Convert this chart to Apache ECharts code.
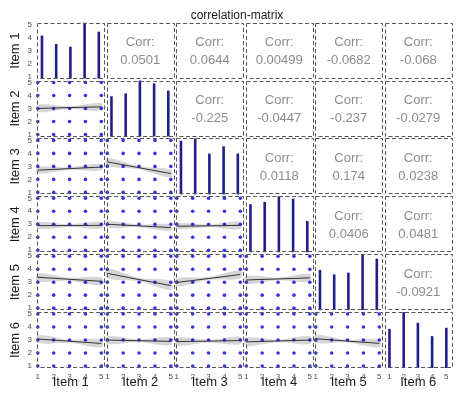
<!DOCTYPE html>
<html><head><meta charset="utf-8">
<script src="https://cdn.jsdelivr.net/npm/echarts@6/dist/echarts.min.js"></script>
<style>html,body{margin:0;padding:0;background:#fff}#c{width:474px;height:396px}</style>
</head><body><div id="c"></div>
<script>
// ---- data ----
const items = ['Item 1', 'Item 2', 'Item 3', 'Item 4', 'Item 5', 'Item 6'];
const tickValues = [1, 2, 3, 4, 5];
const levels = [1, 2, 3, 4, 5];
// diagonal bar heights (relative counts per response level 1..5)
const barItem1 = [77, 62, 57, 100, 84];
const barItem2 = [72, 77, 100, 95, 82];
const barItem3 = [96, 100, 73, 86, 73];
const barItem4 = [86, 90, 100, 96, 56];
const barItem5 = [72, 64, 67, 100, 92];
const barItem6 = [70, 100, 81, 57, 72];
const barData = [barItem1, barItem2, barItem3, barItem4, barItem5, barItem6];
// upper triangle correlations
const corrRows = [0, 0, 0, 0, 0, 1, 1, 1, 1, 2, 2, 2, 3, 3, 4];
const corrCols = [1, 2, 3, 4, 5, 2, 3, 4, 5, 3, 4, 5, 4, 5, 5];
const corrText = ['0.0501', '0.0644', '0.00499', '-0.0682', '-0.068', '-0.225', '-0.0447', '-0.237', '-0.0279', '0.0118', '0.174', '0.0238', '0.0406', '0.0481', '-0.0921'];
// lower triangle: linear fit at x = 1, 3, 5 and its confidence half-width
const fitX = [1, 3, 5];
const fitRows = [1, 2, 2, 3, 3, 3, 4, 4, 4, 4, 5, 5, 5, 5, 5];
const fitCols = [0, 0, 1, 0, 1, 2, 0, 1, 2, 3, 0, 1, 2, 3, 4];
const fitY = [
  [3.01, 3.07, 3.13], [2.71, 2.83, 2.95], [3.35, 2.90, 2.45],
  [2.90, 2.90, 2.92], [3.00, 2.88, 2.75], [2.85, 2.88, 2.92],
  [3.38, 3.22, 3.07], [3.68, 3.20, 2.74], [2.98, 3.28, 3.59], [3.17, 3.25, 3.33],
  [3.08, 2.91, 2.74], [3.00, 2.95, 2.90], [2.88, 2.92, 2.96], [2.86, 2.93, 3.00], [3.10, 2.92, 2.75]
];
const fitHalf = [
  [0.28, 0.10, 0.28], [0.25, 0.10, 0.25], [0.30, 0.12, 0.30],
  [0.25, 0.10, 0.25], [0.25, 0.10, 0.25], [0.22, 0.10, 0.28],
  [0.30, 0.12, 0.30], [0.35, 0.13, 0.35], [0.30, 0.12, 0.30], [0.30, 0.10, 0.30],
  [0.30, 0.12, 0.30], [0.30, 0.10, 0.30], [0.30, 0.10, 0.30], [0.30, 0.10, 0.30], [0.30, 0.10, 0.30]
];

// ---- layout ----
const FONT = '"Liberation Sans", Arial, sans-serif';
const L = 37, T = 22.7, R = 452, B = 368, GAP = 2;
const CW = (R - L - GAP * 5) / 6, CH = (B - T - GAP * 5) / 6;
const px = j => L + j * (CW + GAP);
const py = i => T + i * (CH + GAP);

const grids = [], xAxes = [], yAxes = [], series = [], graphics = [];
const pointData = [];
levels.forEach(a => levels.forEach(b => pointData.push([a, b])));

function axisBase(g, min, max, showLabel, isX) {
  const ax = {
    type: 'value', gridIndex: g, min: min, max: max,
    axisLine: {show: false}, axisTick: {show: false}, splitLine: {show: false},
    axisLabel: {show: showLabel, customValues: tickValues, fontSize: 8, color: '#4d4d4d',
      margin: 5, fontFamily: FONT}
  };
  ax.position = isX ? 'bottom' : 'left';
  return ax;
}
function addGrid(i, j) {
  grids.push({left: px(j), top: py(i), width: CW, height: CH, outerBoundsMode: 'none', containLabel: false});
  return grids.length - 1;
}

for (let i = 0; i < 6; i++) {
  const g = addGrid(i, i);
  xAxes.push(axisBase(g, 0.65, 5.4, i === 5, true));
  const xi = xAxes.length - 1;
  yAxes.push(axisBase(g, 0, 100, false, false));
  const yi = yAxes.length - 1;
  if (i === 0) yAxes.push(axisBase(g, 0.85, 5.15, true, false));
  series.push({type: 'bar', xAxisIndex: xi, yAxisIndex: yi, barWidth: 2.6,
    itemStyle: {color: '#1f1f8c'},
    data: levels.map((lv, k) => [lv, barData[i][k]])});
}

fitRows.forEach((i, k) => {
  const j = fitCols[k];
  const g = addGrid(i, j);
  xAxes.push(axisBase(g, 0.95, 5.2, i === 5, true));
  const xi = xAxes.length - 1;
  yAxes.push(axisBase(g, 0.85, 5.15, j === 0, false));
  const yi = yAxes.length - 1;
  const fy = fitY[k], fh = fitHalf[k];
  series.push({type: 'custom', xAxisIndex: xi, yAxisIndex: yi, z: 1, silent: true,
    data: [[fitX[0], fy[0]]],
    renderItem: function (params, api) {
      const up = fitX.map((x, m) => api.coord([x, fy[m] + fh[m]]));
      const lo = fitX.map((x, m) => api.coord([x, fy[m] - fh[m]])).reverse();
      return {type: 'polygon', shape: {points: up.concat(lo), smooth: 0.35}, style: {fill: 'rgba(153,153,153,0.4)'}};
    }});
  series.push({type: 'scatter', xAxisIndex: xi, yAxisIndex: yi, z: 2, symbolSize: 3.6,
    itemStyle: {color: '#0000e0'}, data: pointData});
  series.push({type: 'line', xAxisIndex: xi, yAxisIndex: yi, z: 3, symbol: 'none',
    lineStyle: {color: '#333333', width: 1}, data: fitX.map((x, m) => [x, fy[m]])});
});

// borders
for (let i = 0; i < 6; i++) for (let j = 0; j < 6; j++) {
  graphics.push({type: 'rect', z: 100, silent: true,
    shape: {x: Math.round(px(j)) + 0.5, y: Math.round(py(i)) + 0.5, width: Math.round(CW) - 1, height: Math.round(CH) - 1},
    style: {fill: 'none', stroke: '#555555', lineWidth: 1, lineDash: [4, 2.5]}});
}
// correlations
corrRows.forEach((i, k) => {
  const j = corrCols[k];
  const cx = px(j) + CW / 2, cy = py(i) + CH / 2;
  graphics.push({type: 'text', x: cx, y: cy - 8, style: {text: 'Corr:', fill: '#8c8c8c', font: '13px ' + FONT, textAlign: 'center', textVerticalAlign: 'middle'}});
  graphics.push({type: 'text', x: cx, y: cy + 10, style: {text: corrText[k], fill: '#8c8c8c', font: '13px ' + FONT, textAlign: 'center', textVerticalAlign: 'middle'}});
});
// strip labels
items.forEach((name, k) => {
  graphics.push({type: 'text', x: 15, y: py(k) + CH / 2, rotation: Math.PI / 2,
    style: {text: name, fill: '#1a1a1a', font: '13px ' + FONT, textAlign: 'center', textVerticalAlign: 'middle'}});
  graphics.push({type: 'text', x: px(k) + CW / 2, y: 382,
    style: {text: name, fill: '#1a1a1a', font: '13px ' + FONT, textAlign: 'center', textVerticalAlign: 'middle'}});
});

const chart = echarts.init(document.getElementById('c'), null, {renderer: 'canvas'});
chart.setOption({
  animation: false,
  backgroundColor: '#ffffff',
  title: {text: 'correlation-matrix', left: 'center', top: 5,
    textStyle: {fontSize: 12, fontWeight: 'normal', color: '#1a1a1a', fontFamily: FONT}},
  grid: grids, xAxis: xAxes, yAxis: yAxes, series: series, graphic: graphics
});
</script></body></html>
